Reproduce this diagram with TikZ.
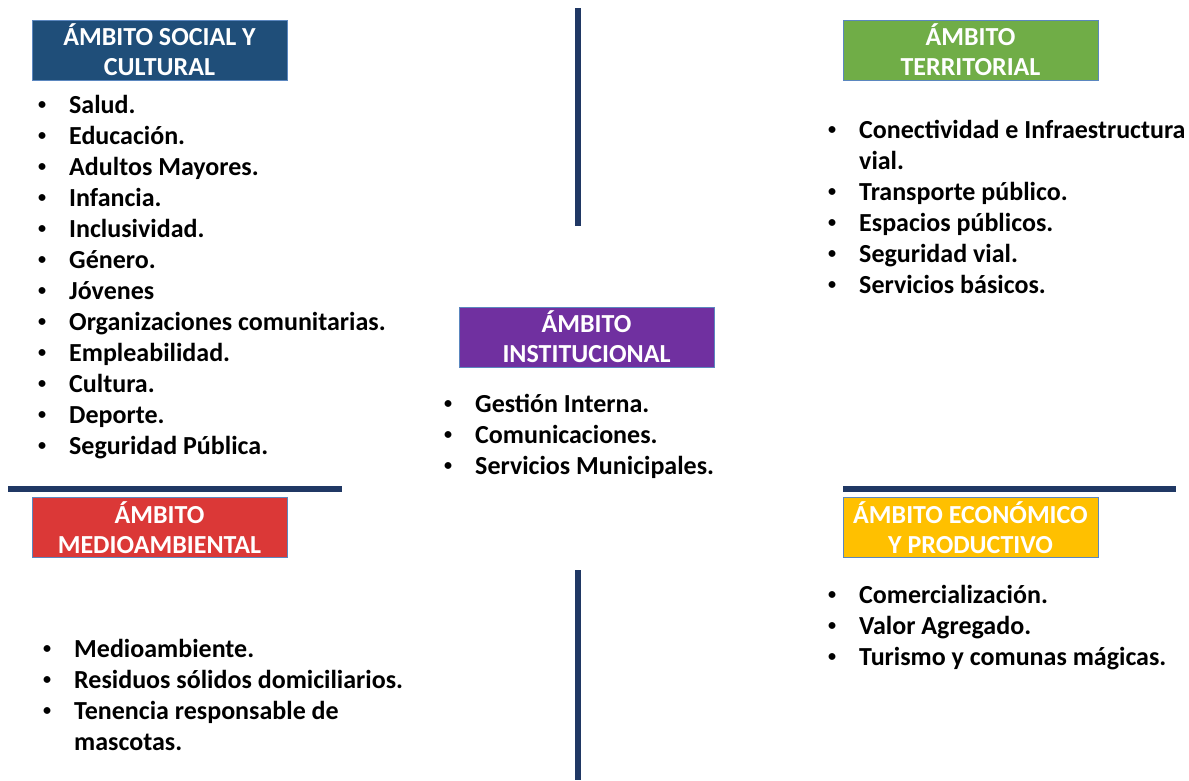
\documentclass[tikz,border=0pt]{standalone}
\usepackage{fontspec}
\setmainfont{Carlito}
\usetikzlibrary{positioning}

\definecolor{socialblue}{HTML}{1F4E79}
\definecolor{terrgreen}{HTML}{70AD47}
\definecolor{instpurple}{HTML}{7030A0}
\definecolor{mediored}{HTML}{DB3837}
\definecolor{econyellow}{HTML}{FFC000}
\definecolor{frameblue}{HTML}{5B87BF}
\definecolor{navy}{HTML}{203864}

\newcommand{\punto}{\makebox[30pt][l]{\hspace{-1pt}\raisebox{3.6pt}{\scalebox{0.62}{\textbullet}}}}

\tikzset{
  ambito/.style={draw=frameblue, line width=0.8pt, minimum width=255pt, minimum height=60pt,
    inner sep=0pt, align=center, text=white, font=\bfseries\fontsize{26}{30}\selectfont},
  lista/.style={anchor=base west, inner sep=0pt, font=\bfseries\fontsize{26}{31}\selectfont},
  separador/.style={line width=6.5pt, draw=navy}
}

\begin{document}
\begin{tikzpicture}[x=1pt, y=-1pt]
  \useasboundingbox (0,0) rectangle (1189,780);

  % Separators
  \draw[separador] (578,8) -- (578,226);
  \draw[separador] (578,570) -- (578,780);
  \draw[separador] (8,489) -- (342,489);
  \draw[separador] (843,489) -- (1176,489);

  % Social y cultural
  \node[ambito, fill=socialblue] (social) at (159.5,50) {ÁMBITO SOCIAL Y\\CULTURAL};
  \node[lista] (socialLista) at (39,113.4) {\begin{tabular}[t]{@{}l@{}}
    \punto Salud.\\
    \punto Educación.\\
    \punto Adultos Mayores.\\
    \punto Infancia.\\
    \punto Inclusividad.\\
    \punto Género.\\
    \punto Jóvenes\\
    \punto Organizaciones comunitarias.\\
    \punto Empleabilidad.\\
    \punto Cultura.\\
    \punto Deporte.\\
    \punto Seguridad Pública.
  \end{tabular}};

  % Territorial
  \node[ambito, fill=terrgreen] (terr) at (970.5,50) {ÁMBITO\\TERRITORIAL};
  \node[lista] (terrLista) at (829,138.4) {\begin{tabular}[t]{@{}l@{}}
    \punto Conectividad e Infraestructura\\
    \hspace{30pt}vial.\\
    \punto Transporte público.\\
    \punto Espacios públicos.\\
    \punto Seguridad vial.\\
    \punto Servicios básicos.
  \end{tabular}};

  % Institucional
  \node[ambito, fill=instpurple] (inst) at (586.5,337) {ÁMBITO\\INSTITUCIONAL};
  \node[lista] (instLista) at (445,412.4) {\begin{tabular}[t]{@{}l@{}}
    \punto Gestión Interna.\\
    \punto Comunicaciones.\\
    \punto Servicios Municipales.
  \end{tabular}};

  % Medioambiental
  \node[ambito, fill=mediored] (medio) at (159.5,527.5) {ÁMBITO\\MEDIOAMBIENTAL};
  \node[lista] (medioLista) at (44,657.4) {\begin{tabular}[t]{@{}l@{}}
    \punto Medioambiente.\\
    \punto Residuos sólidos domiciliarios.\\
    \punto Tenencia responsable de\\
    \hspace{30pt}mascotas.
  \end{tabular}};

  % Economico y productivo
  \node[ambito, fill=econyellow] (econ) at (970.5,527.5) {ÁMBITO ECONÓMICO\\Y PRODUCTIVO};
  \node[lista] (econLista) at (829,603.4) {\begin{tabular}[t]{@{}l@{}}
    \punto Comercialización.\\
    \punto Valor Agregado.\\
    \punto Turismo y comunas mágicas.
  \end{tabular}};
\end{tikzpicture}
\end{document}
